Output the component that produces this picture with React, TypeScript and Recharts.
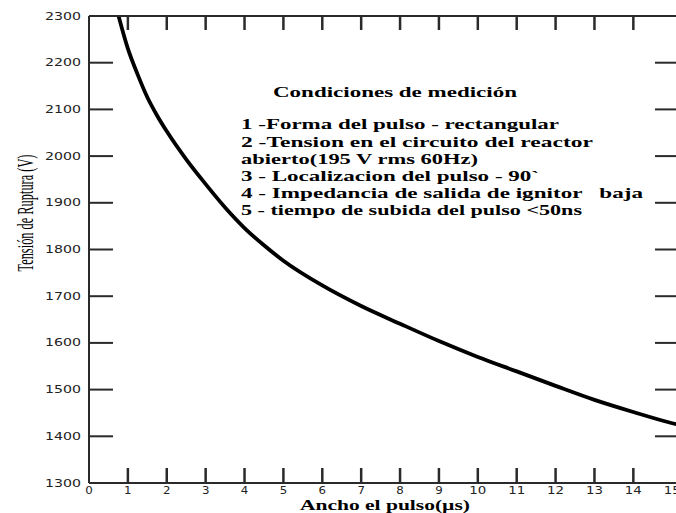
import React from 'react';
import { LineChart, Line, XAxis, YAxis } from 'recharts';

// ---- data ----
const pulseWidth = [0.76, 1, 1.25, 1.5, 1.75, 2, 2.5, 3, 3.5, 4, 4.5, 5, 6, 7, 8, 9, 10, 11, 12, 13, 14, 15, 15.2];
const breakdownVoltage = [2300, 2230, 2175, 2126, 2087, 2053, 1993, 1940, 1890, 1846, 1809, 1776, 1723, 1679, 1641, 1604, 1570, 1539, 1508, 1478, 1452, 1428, 1424];

const xTicks = [0, 1, 2, 3, 4, 5, 6, 7, 8, 9, 10, 11, 12, 13, 14, 15];
const xInnerTicks = [1, 2, 3, 4, 5, 6, 7, 8, 9, 10, 11, 12, 13, 14];
const yTicks = [1300, 1400, 1500, 1600, 1700, 1800, 1900, 2000, 2100, 2200, 2300];
const yInnerTicks = [1400, 1500, 1600, 1700, 1800, 1900, 2000, 2100, 2200];

const conditionsTitle = 'Condiciones de medición';
const conditionLines = [
  '1 -Forma del pulso - rectangular',
  '2 -Tension en el circuito del reactor',
  'abierto(195 V rms 60Hz)',
  '3 - Localizacion del pulso - 90`',
  '4 - Impedancia de salida de ignitor   baja',
  '5 - tiempo de subida del pulso <50ns',
];
const xTitle = 'Ancho el pulso(µs)';
const yTitle = 'Tensión de Ruptura (V)';

// ---- layout (not data) ----
const lineWidths = [318, 352, 237, 298, 402, 341];
const lineBaselines = [129, 146.5, 164, 181, 198, 215];

const chartData = pulseWidth.map((x, i) => ({ x, v: breakdownVoltage[i] }));

const tickLen = (s: string) => s.length * 9.5 - 2;

const YTick = (props: any) => {
  const { x, y, payload } = props;
  const s = String(payload.value);
  return (
    <text x={x} y={y} dy="0.355em" textAnchor="end" fontFamily="DejaVu Sans" fontSize={10} fill="#222"
      textLength={tickLen(s)} lengthAdjust="spacingAndGlyphs">{s}</text>
  );
};

const XTick = (props: any) => {
  const { x, y, payload } = props;
  const s = String(payload.value);
  return (
    <text x={x} y={y + 3} textAnchor="middle" fontFamily="DejaVu Sans" fontSize={10} fill="#222"
      textLength={tickLen(s)} lengthAdjust="spacingAndGlyphs">{s}</text>
  );
};

const EmptyTick = () => <g />;

const AXIS = '#2a2a2a';

export default function App() {
  return (
    <div style={{ position: 'absolute', left: 0, top: 0, width: 676, height: 513, overflow: 'hidden', background: '#fff' }}>
      <LineChart width={700} height={513} data={chartData} margin={{ top: 16, right: 20, bottom: 0, left: 0 }}>
        <XAxis xAxisId="x" dataKey="x" type="number" domain={[0, 15.2]} allowDataOverflow ticks={xTicks}
          interval={0} height={30} tickLine={false} axisLine={{ stroke: AXIS, strokeWidth: 2 }} tick={<XTick />} />
        <XAxis xAxisId="xb" dataKey="x" type="number" domain={[0, 15.2]} allowDataOverflow ticks={xInnerTicks}
          interval={0} mirror orientation="bottom" tickSize={15} axisLine={false} tick={EmptyTick}
          tickLine={{ stroke: AXIS, strokeWidth: 2.5 }} />
        <XAxis xAxisId="xt" dataKey="x" type="number" domain={[0, 15.2]} allowDataOverflow ticks={xInnerTicks}
          interval={0} mirror orientation="top" tickSize={14} axisLine={{ stroke: AXIS, strokeWidth: 2 }} tick={EmptyTick}
          tickLine={{ stroke: AXIS, strokeWidth: 2.5 }} />
        <YAxis yAxisId="y" type="number" domain={[1300, 2300]} allowDataOverflow ticks={yTicks} interval={0}
          width={89} tickLine={false} axisLine={{ stroke: AXIS, strokeWidth: 2 }} tick={<YTick />} />
        <YAxis yAxisId="yl" type="number" domain={[1300, 2300]} allowDataOverflow ticks={yInnerTicks} interval={0}
          mirror orientation="left" tickSize={24} axisLine={false} tick={EmptyTick}
          tickLine={{ stroke: AXIS, strokeWidth: 2 }} />
        <YAxis yAxisId="yr" type="number" domain={[1300, 2300]} allowDataOverflow ticks={yInnerTicks} interval={0}
          mirror orientation="right" tickSize={25} axisLine={false} tick={EmptyTick}
          tickLine={{ stroke: AXIS, strokeWidth: 2 }} />
        <Line xAxisId="x" yAxisId="y" dataKey="v" type="monotone" stroke="#000" strokeWidth={3.8}
          dot={false} activeDot={false} isAnimationActive={false} />
      </LineChart>
      <svg width={676} height={513} style={{ position: 'absolute', left: 0, top: 0, pointerEvents: 'none' }}>
        <text x={273} y={97} fontFamily="Liberation Serif" fontWeight="bold" fontSize={14} fill="#000"
          textLength={244} lengthAdjust="spacingAndGlyphs">{conditionsTitle}</text>
        {conditionLines.map((s, i) => (
          <text key={i} x={241} y={lineBaselines[i]} fontFamily="Liberation Serif" fontWeight="bold" fontSize={15}
            fill="#000" textLength={lineWidths[i]} lengthAdjust="spacingAndGlyphs" style={{ whiteSpace: 'pre' }}>{s}</text>
        ))}
        <text x={300} y={510} fontFamily="Liberation Serif" fontWeight="bold" fontSize={15.5} fill="#000"
          textLength={170} lengthAdjust="spacingAndGlyphs">{xTitle}</text>
        <text transform="translate(33,213) rotate(-90) scale(0.516,1)" x={0} y={0} textAnchor="middle"
          fontFamily="Liberation Serif" fontSize={24} fill="#000">{yTitle}</text>
      </svg>
    </div>
  );
}
